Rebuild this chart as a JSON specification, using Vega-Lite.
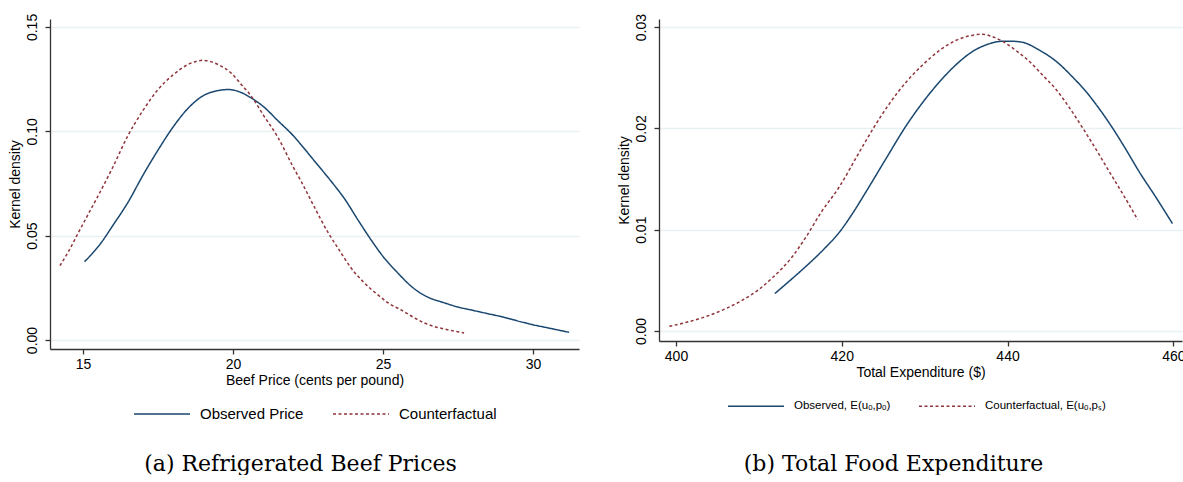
{
  "$schema": "https://vega.github.io/schema/vega-lite/v6.json",
  "background": "white",
  "padding": {"left": 8, "top": 13, "right": 0, "bottom": 0},
  "spacing": 38,
  "config": {
    "view": {"stroke": null},
    "font": "Liberation Sans",
    "axis": {
      "labelFont": "Liberation Sans", "titleFont": "Liberation Sans",
      "labelFontSize": 14, "titleFontSize": 14, "titleFontWeight": "normal",
      "labelColor": "#000", "titleColor": "#000",
      "domainColor": "#333", "domainWidth": 1.3,
      "tickColor": "#333", "tickSize": 5, "tickWidth": 1.3,
      "gridColor": "#e9f0f1", "gridWidth": 1.5
    },
    "axisX": {"grid": false, "labelPadding": 3, "titlePadding": 2},
    "axisY": {"labelAngle": 270, "labelPadding": 6, "titlePadding": 3, "domain": true},
    "legend": {"labelFont": "Liberation Sans", "labelColor": "#000"},
    "title": {"font": "DejaVu Serif", "fontSize": 22, "fontWeight": "normal", "color": "#000"}
  },
  "datasets": {
    "beef": [
      {"x": 15.05, "density": 0.0375, "series": "Observed Price"},
      {"x": 15.6, "density": 0.0465, "series": "Observed Price"},
      {"x": 16.0, "density": 0.055, "series": "Observed Price"},
      {"x": 16.5, "density": 0.066, "series": "Observed Price"},
      {"x": 17.0, "density": 0.079, "series": "Observed Price"},
      {"x": 17.5, "density": 0.091, "series": "Observed Price"},
      {"x": 18.0, "density": 0.102, "series": "Observed Price"},
      {"x": 18.5, "density": 0.111, "series": "Observed Price"},
      {"x": 19.0, "density": 0.117, "series": "Observed Price"},
      {"x": 19.5, "density": 0.1195, "series": "Observed Price"},
      {"x": 19.85, "density": 0.120, "series": "Observed Price"},
      {"x": 20.2, "density": 0.119, "series": "Observed Price"},
      {"x": 20.6, "density": 0.116, "series": "Observed Price"},
      {"x": 21.0, "density": 0.112, "series": "Observed Price"},
      {"x": 21.5, "density": 0.105, "series": "Observed Price"},
      {"x": 22.0, "density": 0.098, "series": "Observed Price"},
      {"x": 22.3, "density": 0.093, "series": "Observed Price"},
      {"x": 22.7, "density": 0.086, "series": "Observed Price"},
      {"x": 23.3, "density": 0.0755, "series": "Observed Price"},
      {"x": 23.7, "density": 0.068, "series": "Observed Price"},
      {"x": 24.2, "density": 0.0567, "series": "Observed Price"},
      {"x": 24.6, "density": 0.048, "series": "Observed Price"},
      {"x": 25.0, "density": 0.040, "series": "Observed Price"},
      {"x": 25.5, "density": 0.032, "series": "Observed Price"},
      {"x": 26.0, "density": 0.025, "series": "Observed Price"},
      {"x": 26.5, "density": 0.0205, "series": "Observed Price"},
      {"x": 27.0, "density": 0.018, "series": "Observed Price"},
      {"x": 27.5, "density": 0.0158, "series": "Observed Price"},
      {"x": 28.0, "density": 0.0142, "series": "Observed Price"},
      {"x": 28.5, "density": 0.0126, "series": "Observed Price"},
      {"x": 29.0, "density": 0.011, "series": "Observed Price"},
      {"x": 29.6, "density": 0.0087, "series": "Observed Price"},
      {"x": 30.0, "density": 0.0073, "series": "Observed Price"},
      {"x": 30.5, "density": 0.0058, "series": "Observed Price"},
      {"x": 31.2, "density": 0.0037, "series": "Observed Price"},
      {"x": 14.23, "density": 0.0356, "series": "Counterfactual"},
      {"x": 14.5, "density": 0.042, "series": "Counterfactual"},
      {"x": 14.83, "density": 0.051, "series": "Counterfactual"},
      {"x": 15.2, "density": 0.061, "series": "Counterfactual"},
      {"x": 15.5, "density": 0.069, "series": "Counterfactual"},
      {"x": 16.0, "density": 0.083, "series": "Counterfactual"},
      {"x": 16.5, "density": 0.098, "series": "Counterfactual"},
      {"x": 17.0, "density": 0.110, "series": "Counterfactual"},
      {"x": 17.5, "density": 0.120, "series": "Counterfactual"},
      {"x": 18.0, "density": 0.127, "series": "Counterfactual"},
      {"x": 18.5, "density": 0.132, "series": "Counterfactual"},
      {"x": 19.0, "density": 0.134, "series": "Counterfactual"},
      {"x": 19.5, "density": 0.132, "series": "Counterfactual"},
      {"x": 19.93, "density": 0.128, "series": "Counterfactual"},
      {"x": 20.3, "density": 0.122, "series": "Counterfactual"},
      {"x": 20.6, "density": 0.117, "series": "Counterfactual"},
      {"x": 21.0, "density": 0.108, "series": "Counterfactual"},
      {"x": 21.5, "density": 0.097, "series": "Counterfactual"},
      {"x": 22.0, "density": 0.083, "series": "Counterfactual"},
      {"x": 22.27, "density": 0.076, "series": "Counterfactual"},
      {"x": 22.7, "density": 0.064, "series": "Counterfactual"},
      {"x": 23.17, "density": 0.0514, "series": "Counterfactual"},
      {"x": 23.5, "density": 0.044, "series": "Counterfactual"},
      {"x": 23.93, "density": 0.0346, "series": "Counterfactual"},
      {"x": 24.4, "density": 0.027, "series": "Counterfactual"},
      {"x": 24.83, "density": 0.0216, "series": "Counterfactual"},
      {"x": 25.2, "density": 0.0175, "series": "Counterfactual"},
      {"x": 25.6, "density": 0.0144, "series": "Counterfactual"},
      {"x": 26.0, "density": 0.011, "series": "Counterfactual"},
      {"x": 26.37, "density": 0.0082, "series": "Counterfactual"},
      {"x": 26.7, "density": 0.0065, "series": "Counterfactual"},
      {"x": 27.03, "density": 0.0053, "series": "Counterfactual"},
      {"x": 27.3, "density": 0.0045, "series": "Counterfactual"},
      {"x": 27.7, "density": 0.0034, "series": "Counterfactual"}
    ],
    "food": [
      {"x": 411.93, "density": 0.0037, "series": "Observed, E(uₒ,pₒ)"},
      {"x": 413.5, "density": 0.0048, "series": "Observed, E(uₒ,pₒ)"},
      {"x": 415.3, "density": 0.0061, "series": "Observed, E(uₒ,pₒ)"},
      {"x": 417.75, "density": 0.0080, "series": "Observed, E(uₒ,pₒ)"},
      {"x": 419.76, "density": 0.0098, "series": "Observed, E(uₒ,pₒ)"},
      {"x": 421.3, "density": 0.0116, "series": "Observed, E(uₒ,pₒ)"},
      {"x": 422.97, "density": 0.0138, "series": "Observed, E(uₒ,pₒ)"},
      {"x": 425.4, "density": 0.0171, "series": "Observed, E(uₒ,pₒ)"},
      {"x": 427.8, "density": 0.0203, "series": "Observed, E(uₒ,pₒ)"},
      {"x": 429.8, "density": 0.0226, "series": "Observed, E(uₒ,pₒ)"},
      {"x": 431.8, "density": 0.0246, "series": "Observed, E(uₒ,pₒ)"},
      {"x": 433.8, "density": 0.0263, "series": "Observed, E(uₒ,pₒ)"},
      {"x": 435.8, "density": 0.0276, "series": "Observed, E(uₒ,pₒ)"},
      {"x": 437.6, "density": 0.0283, "series": "Observed, E(uₒ,pₒ)"},
      {"x": 439.4, "density": 0.0286, "series": "Observed, E(uₒ,pₒ)"},
      {"x": 440.6, "density": 0.0286, "series": "Observed, E(uₒ,pₒ)"},
      {"x": 441.8, "density": 0.0285, "series": "Observed, E(uₒ,pₒ)"},
      {"x": 443.9, "density": 0.0277, "series": "Observed, E(uₒ,pₒ)"},
      {"x": 445.9, "density": 0.0266, "series": "Observed, E(uₒ,pₒ)"},
      {"x": 447.7, "density": 0.0252, "series": "Observed, E(uₒ,pₒ)"},
      {"x": 449.5, "density": 0.0236, "series": "Observed, E(uₒ,pₒ)"},
      {"x": 451.1, "density": 0.0219, "series": "Observed, E(uₒ,pₒ)"},
      {"x": 452.7, "density": 0.0200, "series": "Observed, E(uₒ,pₒ)"},
      {"x": 454.3, "density": 0.0179, "series": "Observed, E(uₒ,pₒ)"},
      {"x": 455.9, "density": 0.0157, "series": "Observed, E(uₒ,pₒ)"},
      {"x": 457.9, "density": 0.0132, "series": "Observed, E(uₒ,pₒ)"},
      {"x": 459.9, "density": 0.0106, "series": "Observed, E(uₒ,pₒ)"},
      {"x": 399.2, "density": 0.00046, "series": "Counterfactual, E(uₒ,pₛ)"},
      {"x": 401.0, "density": 0.0008, "series": "Counterfactual, E(uₒ,pₛ)"},
      {"x": 403.7, "density": 0.00145, "series": "Counterfactual, E(uₒ,pₛ)"},
      {"x": 406.0, "density": 0.0022, "series": "Counterfactual, E(uₒ,pₛ)"},
      {"x": 407.7, "density": 0.0029, "series": "Counterfactual, E(uₒ,pₛ)"},
      {"x": 410.0, "density": 0.0041, "series": "Counterfactual, E(uₒ,pₛ)"},
      {"x": 411.7, "density": 0.0053, "series": "Counterfactual, E(uₒ,pₛ)"},
      {"x": 414.0, "density": 0.0073, "series": "Counterfactual, E(uₒ,pₛ)"},
      {"x": 415.7, "density": 0.0093, "series": "Counterfactual, E(uₒ,pₛ)"},
      {"x": 417.5, "density": 0.0117, "series": "Counterfactual, E(uₒ,pₛ)"},
      {"x": 419.76, "density": 0.0143, "series": "Counterfactual, E(uₒ,pₛ)"},
      {"x": 421.8, "density": 0.0172, "series": "Counterfactual, E(uₒ,pₛ)"},
      {"x": 423.8, "density": 0.0200, "series": "Counterfactual, E(uₒ,pₛ)"},
      {"x": 425.8, "density": 0.0225, "series": "Counterfactual, E(uₒ,pₛ)"},
      {"x": 427.8, "density": 0.0246, "series": "Counterfactual, E(uₒ,pₛ)"},
      {"x": 429.8, "density": 0.0263, "series": "Counterfactual, E(uₒ,pₛ)"},
      {"x": 431.8, "density": 0.0277, "series": "Counterfactual, E(uₒ,pₛ)"},
      {"x": 433.8, "density": 0.0287, "series": "Counterfactual, E(uₒ,pₛ)"},
      {"x": 435.8, "density": 0.0292, "series": "Counterfactual, E(uₒ,pₛ)"},
      {"x": 437.0, "density": 0.0293, "series": "Counterfactual, E(uₒ,pₛ)"},
      {"x": 438.0, "density": 0.0291, "series": "Counterfactual, E(uₒ,pₛ)"},
      {"x": 439.4, "density": 0.0286, "series": "Counterfactual, E(uₒ,pₛ)"},
      {"x": 441.0, "density": 0.0277, "series": "Counterfactual, E(uₒ,pₛ)"},
      {"x": 442.65, "density": 0.0266, "series": "Counterfactual, E(uₒ,pₛ)"},
      {"x": 444.3, "density": 0.0252, "series": "Counterfactual, E(uₒ,pₛ)"},
      {"x": 445.9, "density": 0.0238, "series": "Counterfactual, E(uₒ,pₛ)"},
      {"x": 447.5, "density": 0.0220, "series": "Counterfactual, E(uₒ,pₛ)"},
      {"x": 449.1, "density": 0.0200, "series": "Counterfactual, E(uₒ,pₛ)"},
      {"x": 450.7, "density": 0.0179, "series": "Counterfactual, E(uₒ,pₛ)"},
      {"x": 452.3, "density": 0.0157, "series": "Counterfactual, E(uₒ,pₛ)"},
      {"x": 454.0, "density": 0.0134, "series": "Counterfactual, E(uₒ,pₛ)"},
      {"x": 455.7, "density": 0.0110, "series": "Counterfactual, E(uₒ,pₛ)"}
    ]
  },
  "hconcat": [
    {
      "width": 529,
      "height": 330,
      "data": {"name": "beef"},
      "title": {"text": "(a) Refrigerated Beef Prices", "orient": "bottom", "anchor": "middle", "dx": -14, "offset": 32},
      "mark": {"type": "line", "strokeWidth": 1.5, "interpolate": "monotone"},
      "encoding": {
        "x": {"field": "x", "type": "quantitative", "scale": {"domain": [13.9, 31.53], "nice": false, "zero": false},
              "axis": {"title": "Beef Price (cents per pound)", "values": [15, 20, 25, 30]}},
        "y": {"field": "density", "type": "quantitative", "scale": {"domain": [-0.0043, 0.1538], "nice": false},
              "axis": {"title": "Kernel density", "values": [0, 0.05, 0.1, 0.15], "format": ".2f"}},
        "color": {"field": "series", "type": "nominal",
                  "scale": {"domain": ["Observed Price", "Counterfactual"], "range": ["#1a476f", "#90353b"]},
                  "legend": {"title": null, "orient": "none", "legendX": 83, "legendY": 366, "direction": "horizontal",
                             "symbolType": "stroke", "symbolSize": 3136, "symbolStrokeWidth": 1.5, "labelFontSize": 15,
                             "labelOffset": 9, "columnPadding": 26}},
        "strokeDash": {"field": "series", "type": "nominal",
                       "scale": {"domain": ["Observed Price", "Counterfactual"], "range": [[1, 0], [3, 2.5]]},
                       "legend": {"title": null, "orient": "none", "legendX": 83, "legendY": 366, "direction": "horizontal",
                                  "symbolType": "stroke", "symbolSize": 3136, "symbolStrokeWidth": 1.5, "labelFontSize": 15,
                                  "labelOffset": 9, "columnPadding": 26}}
      }
    },
    {
      "width": 523,
      "height": 322,
      "data": {"name": "food"},
      "title": {"text": "(b) Total Food Expenditure", "orient": "bottom", "anchor": "middle", "dx": -27, "offset": 42},
      "mark": {"type": "line", "strokeWidth": 1.5, "interpolate": "monotone"},
      "encoding": {
        "x": {"field": "x", "type": "quantitative", "scale": {"domain": [397.95, 461.05], "nice": false, "zero": false},
              "axis": {"title": "Total Expenditure ($)", "values": [400, 420, 440, 460]}},
        "y": {"field": "density", "type": "quantitative", "scale": {"domain": [-0.00099, 0.0308], "nice": false},
              "axis": {"title": "Kernel density", "values": [0, 0.01, 0.02, 0.03], "format": ".2f"}},
        "color": {"field": "series", "type": "nominal",
                  "scale": {"domain": ["Observed, E(uₒ,pₒ)", "Counterfactual, E(uₒ,pₛ)"], "range": ["#1a476f", "#90353b"]},
                  "legend": {"title": null, "orient": "none", "legendX": 68, "legendY": 358, "direction": "horizontal",
                             "symbolType": "stroke", "symbolSize": 3136, "symbolStrokeWidth": 1.5, "labelFontSize": 11.5,
                             "labelOffset": 9, "columnPadding": 25}},
        "strokeDash": {"field": "series", "type": "nominal",
                       "scale": {"domain": ["Observed, E(uₒ,pₒ)", "Counterfactual, E(uₒ,pₛ)"], "range": [[1, 0], [3, 2.5]]},
                       "legend": {"title": null, "orient": "none", "legendX": 68, "legendY": 358, "direction": "horizontal",
                                  "symbolType": "stroke", "symbolSize": 3136, "symbolStrokeWidth": 1.5, "labelFontSize": 11.5,
                                  "labelOffset": 9, "columnPadding": 25}}
      }
    }
  ],
  "resolve": {"scale": {"color": "independent", "strokeDash": "independent", "x": "independent", "y": "independent"},
              "legend": {"color": "independent", "strokeDash": "independent"}}
}
